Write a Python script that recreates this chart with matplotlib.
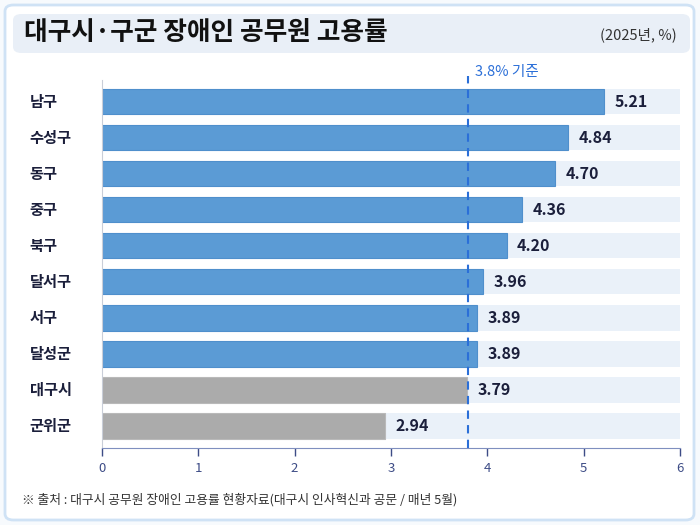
import matplotlib
matplotlib.use('Agg')
from matplotlib import pyplot as plt
from matplotlib.patches import FancyBboxPatch
import matplotlib.transforms as mtransforms

plt.rcParams['font.family'] = ['Noto Sans CJK KR', 'DejaVu Sans']

regions = ['남구', '수성구', '동구', '중구', '북구', '달서구', '서구', '달성군', '대구시', '군위군']
rates = [5.21, 4.84, 4.70, 4.36, 4.20, 3.96, 3.89, 3.89, 3.79, 2.94]
gray_regions = ['대구시', '군위군']
baseline = 3.8
axis_max = 6
title = '대구시·구군 장애인 공무원 고용률'
subtitle = '(2025년, %)'
source = '※ 출처 : 대구시 공무원 장애인 고용률 현황자료(대구시 인사혁신과 공문 / 매년 5월)'

W, H = 700, 525
BLUE = '#5b9bd5'
GRAY = '#ababab'
TRACK = '#eaf1f9'
NAVY = '#1b1f3b'


def px(x, y):
    # pixel (from top-left) -> figure fraction
    return x / W, 1 - y / H


fig = plt.figure(figsize=(7, 5.25), dpi=100)
fig.patch.set_facecolor('#f7fafd')

# outer card
x0, y0 = px(5, 520)
card = FancyBboxPatch((x0, y0), 689 / W, 515 / H,
                      boxstyle='round,pad=0,rounding_size=0.012',
                      transform=fig.transFigure, facecolor='white',
                      edgecolor='#cfe2f5', linewidth=2, zorder=-2)
fig.patches.append(card)

# title box
tx, ty = px(13, 53)
tbox = FancyBboxPatch((tx, ty), 677 / W, 39 / H,
                      boxstyle='round,pad=0,rounding_size=0.012',
                      transform=fig.transFigure, facecolor='#e9eff7',
                      edgecolor='none', zorder=-1)
fig.patches.append(tbox)

fig.text(*px(24, 33), title, fontsize=18.5, fontweight='black', color='#111111',
         va='center', ha='left')
fig.text(*px(677, 35), subtitle, fontsize=10.5, color='#333333',
         va='center', ha='right')
fig.text(*px(22, 500), source, fontsize=9.2, color='#333333',
         va='center', ha='left')

left, bottom = px(102, 447.7)
right, top = px(680, 80)
ax = fig.add_axes([left, bottom, right - left, top - bottom])
ax.set_facecolor('none')
ax.set_zorder(1)

ypos = list(range(len(regions)))
ax.barh(ypos, [axis_max] * len(regions), height=0.7, color=TRACK, zorder=1)
colors = [GRAY if r in gray_regions else BLUE for r in regions]
edges = ['#b9b9b9' if r in gray_regions else '#4f8fcc' for r in regions]
ax.barh(ypos, rates, height=0.7, color=colors, edgecolor=edges,
        linewidth=0.8, zorder=2)

for y, v in zip(ypos, rates):
    ax.annotate(f'{v:.2f}', (v, y), xytext=(7.5, 0), textcoords='offset points',
                va='center', ha='left', fontsize=11.5, fontweight='black',
                color=NAVY, zorder=4)

trans = mtransforms.blended_transform_factory(ax.transAxes, ax.transData)
for y, name in zip(ypos, regions):
    ax.text(-0.125, y, name, transform=trans, ha='left', va='center',
            fontsize=11, fontweight='bold', color=NAVY)

ax.axvline(baseline, ymin=0, ymax=1.012, color='#2b6fd8', linestyle=(0, (4, 3)),
           linewidth=1.5, zorder=3, clip_on=False)
ax.annotate(f'{baseline}% 기준', (baseline, -0.6), xytext=(5, 1),
            textcoords='offset points', ha='left', va='bottom',
            fontsize=10.5, color='#2b6fd8', annotation_clip=False)

ax.set_xlim(0, axis_max)
ax.set_ylim(len(regions) - 0.4, -0.6)
ax.set_xticks(range(axis_max + 1))
ax.set_yticks([])
ax.tick_params(axis='x', colors='#3d4c86', labelsize=9.5, length=6, width=1, pad=4)
for s in ['top', 'right']:
    ax.spines[s].set_visible(False)
ax.spines['bottom'].set_color('#7f8fbf')
ax.spines['left'].set_color('#c9ced8')

fig.savefig('out.png', dpi=100, facecolor=fig.get_facecolor())
